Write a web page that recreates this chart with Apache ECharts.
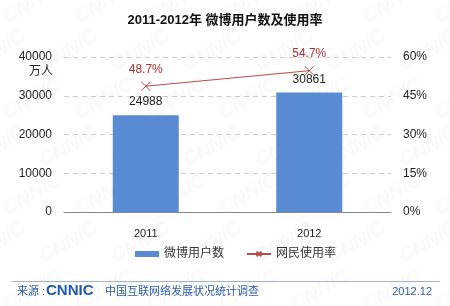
<!DOCTYPE html>
<html>
<head>
<meta charset="utf-8">
<script src="https://cdn.jsdelivr.net/npm/echarts@6/dist/echarts.min.js"></script>
<style>html,body{margin:0;padding:0;background:#fff}#c{width:450px;height:306px}</style>
</head>
<body>
<div id="c"></div>
<script>
var categories = ['2011', '2012'];
var users = [24988, 30861];
var rate = [48.7, 54.7];
var leftTicks = [0, 10000, 20000, 30000, 40000];
var rightTicks = [0, 15, 30, 45, 60];

var FONT = '"Liberation Sans", "Noto Sans CJK SC", sans-serif';
var chart = echarts.init(document.getElementById('c'));

var wm = [];
for (var r = -1; r < 7; r++) {
  for (var k = -1; k < 8; k++) {
    wm.push({
      type: 'text', silent: true, z: -10,
      x: k * 72 + (r % 2) * 36, y: r * 48 + 10,
      rotation: Math.PI / 6,
      style: { text: 'CNNIC', fill: 'rgba(0,0,0,0.025)', font: 'bold italic 20px ' + FONT }
    });
  }
}

chart.setOption({
  animation: false,
  backgroundColor: '#fff',
  textStyle: { fontFamily: FONT },
  title: {
    text: '2011-2012年 微博用户数及使用率',
    left: 'center', top: 9,
    textStyle: { fontSize: 13, fontWeight: 'bold', color: '#111', fontFamily: FONT }
  },
  grid: { left: 64, right: 59, top: 57, bottom: 94 },
  legend: {
    bottom: 41, left: 130,
    itemGap: 22, itemWidth: 24, itemHeight: 6,
    textStyle: { fontSize: 12, color: '#333', fontFamily: FONT },
    data: [
      { name: '微博用户数', icon: 'rect' },
      { name: '网民使用率' }
    ]
  },
  xAxis: {
    type: 'category', data: categories,
    axisLine: { lineStyle: { color: '#888' } },
    axisTick: { show: false },
    axisLabel: { fontSize: 11, color: '#222', margin: 16 }
  },
  yAxis: [
    {
      type: 'value', min: leftTicks[0], max: leftTicks[leftTicks.length - 1], interval: 10000,
      axisLine: { show: false }, axisTick: { show: false },
      axisLabel: { fontSize: 12, color: '#222', margin: 12, formatter: function (v) { return String(v); } },
      splitLine: { lineStyle: { color: '#ccc', type: [5, 4] } }
    },
    {
      type: 'value', min: rightTicks[0], max: rightTicks[rightTicks.length - 1], interval: 15,
      axisLine: { show: false }, axisTick: { show: false },
      axisLabel: { fontSize: 12, color: '#222', margin: 12, formatter: '{value}%' },
      splitLine: { show: false }
    }
  ],
  series: [
    {
      name: '微博用户数', type: 'bar', data: users, barWidth: 66,
      itemStyle: { color: '#588bd2' },
      label: { show: true, position: 'top', distance: 7, fontSize: 12, color: '#222' }
    },
    {
      name: '网民使用率', type: 'line', yAxisIndex: 1, data: rate,
      symbol: 'path://M0,0L10,10M10,0L0,10', symbolSize: 9,
      itemStyle: { color: '#b94a4a', borderColor: '#b94a4a', borderWidth: 1 },
      lineStyle: { color: '#b94a4a', width: 1 },
      label: { show: true, position: 'top', distance: 6, fontSize: 12, color: '#b03030', formatter: '{c}%' },
      z: 5
    }
  ],
  graphic: wm.concat([
    { type: 'text', x: 53, y: 66, style: { text: '万人', fill: '#222', font: '12px ' + FONT, align: 'right' } },
    { type: 'line', shape: { x1: 12, y1: 281.5, x2: 440, y2: 281.5 }, style: { stroke: '#9fb4cc', lineWidth: 1 } },
    { type: 'text', x: 17, y: 286, style: { text: '来源 :', fill: '#2a5ca8', font: '11px ' + FONT } },
    { type: 'text', x: 46, y: 283, style: { text: 'CNNIC', fill: '#1d58b0', font: 'bold 15px ' + FONT } },
    { type: 'text', x: 105, y: 286, style: { text: '中国互联网络发展状况统计调查', fill: '#2a5ca8', font: '11px ' + FONT } },
    { type: 'text', x: 432, y: 286, style: { text: '2012.12', fill: '#2a5ca8', font: '11px ' + FONT, align: 'right' } }
  ])
});
</script>
</body>
</html>
